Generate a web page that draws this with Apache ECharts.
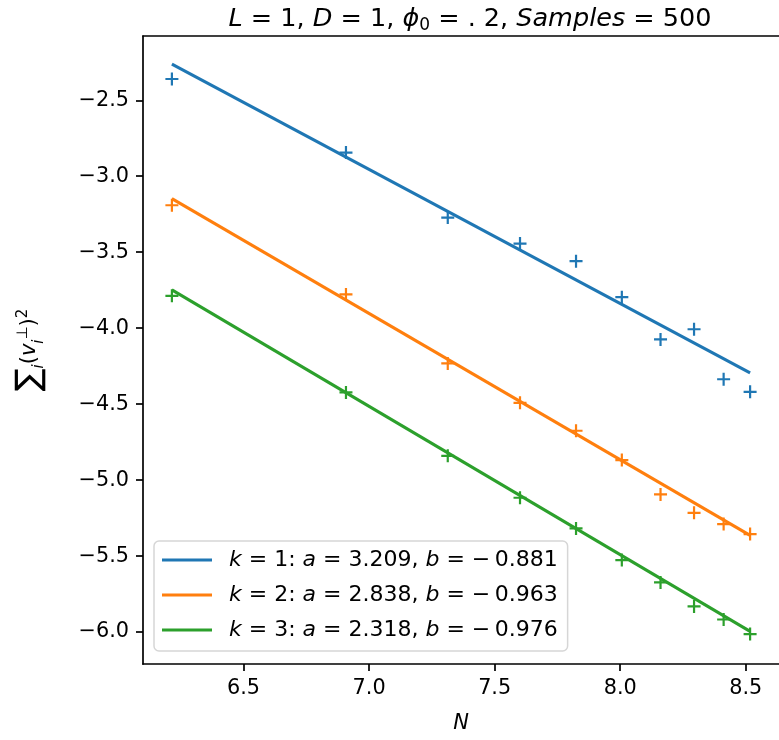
<!DOCTYPE html>
<html>
<head>
<meta charset="utf-8">
<script src="https://cdn.jsdelivr.net/npm/echarts@6/dist/echarts.min.js"></script>
<style>
html,body{margin:0;padding:0;background:#fff;}
#chart{width:779px;height:740px;}
</style>
</head>
<body>
<div id="chart"></div>
<script>
// ---- data ----
const xVals = [6.2146, 6.9078, 7.3132, 7.6009, 7.8240, 8.0064, 8.1605, 8.2940, 8.4118, 8.5172];
const k1Pts = [-2.360, -2.844, -3.272, -3.443, -3.559, -3.796, -4.074, -4.007, -4.336, -4.419];
const k2Pts = [-3.191, -3.778, -4.232, -4.491, -4.675, -4.868, -5.094, -5.215, -5.289, -5.355];
const k3Pts = [-3.787, -4.423, -4.840, -5.116, -5.318, -5.526, -5.673, -5.831, -5.917, -6.013];
const fitX = [6.2146, 8.5172];
const k1Fit = [-2.262, -4.294];
const k2Fit = [-3.147, -5.364];
const k3Fit = [-3.748, -5.995];
const kLabels = ['1', '2', '3'];
const aLabels = ['3.209', '2.838', '2.318'];
const bLabels = ['0.881', '0.963', '0.976'];
const colors = ['#1f77b4', '#ff7f0e', '#2ca02c'];

const FONT = 'DejaVu Sans';
const pts = [k1Pts, k2Pts, k3Pts];
const fits = [k1Fit, k2Fit, k3Fit];
const names = kLabels.map(k => 'k' + k);
const X_MIN = 6.0995, X_MAX = 8.6323;

const plusPath = 'path://M0,5 L10,5 M5,0 L5,10';
const series = [];
pts.forEach((p, i) => {
  series.push({
    type: 'scatter',
    data: xVals.map((x, j) => [x, p[j]]),
    symbol: plusPath,
    symbolSize: 13,
    itemStyle: {color: 'rgba(0,0,0,0)', borderColor: colors[i], borderWidth: 2.2, opacity: 1},
    z: 3,
    silent: true
  });
});
fits.forEach((f, i) => {
  series.push({
    type: 'line',
    name: names[i],
    data: fitX.map((x, j) => [x, f[j]]),
    symbol: 'none',
    lineStyle: {color: colors[i], width: 3.1},
    itemStyle: {color: colors[i]},
    z: 4,
    silent: true
  });
});

const minus = v => String(v).replace('-', '\u2212');
const axisLine = {show: true, onZero: false, lineStyle: {color: '#000', width: 1.7}};
const axisTick = {show: true, inside: false, length: 7, lineStyle: {color: '#000', width: 1.7}};

const chart = echarts.init(document.getElementById('chart'), null, {renderer: 'canvas'});
chart.setOption({
  animation: false,
  backgroundColor: '#fff',
  textStyle: {fontFamily: FONT},
  title: {
    text: '{i|L}{r| = 1, }{i|D}{r| = 1, }{i|ϕ}{s|0}{r| = . 2, }{i|Samples}{r| = 500}',
    left: 465, top: 0, textAlign: 'center',
    textStyle: {
      fontWeight: 'normal',
      rich: {
        i: {fontFamily: FONT, fontStyle: 'italic', fontWeight: 'normal', fontSize: 25.5, color: '#000'},
        r: {fontFamily: FONT, fontWeight: 'normal', fontSize: 25.5, color: '#000'},
        s: {fontFamily: FONT, fontWeight: 'normal', fontSize: 17, color: '#000', padding: [12, 0, 0, 0]}
      }
    }
  },
  grid: {left: 143, top: 36, width: 643.6, height: 628, containLabel: false},
  legend: {
    data: names,
    left: 154, top: 541,
    orient: 'vertical',
    icon: 'rect',
    itemWidth: 50, itemHeight: 3.2,
    itemGap: 11,
    padding: [7, 10, 9, 8],
    borderColor: '#d6d6d6', borderWidth: 1.5, borderRadius: 5,
    backgroundColor: 'rgba(255,255,255,0.8)',
    selectedMode: false,
    formatter: function (name) {
      const i = names.indexOf(name);
      return '{i|k}{r| = ' + kLabels[i] + ': }{i|a}{r| = ' + aLabels[i] + ', }{i|b}{r| = \u2212\u2009' + bLabels[i] + '}';
    },
    textStyle: {
      padding: [0, 0, 0, 12],
      lineHeight: 24,
      rich: {
        i: {fontFamily: FONT, fontStyle: 'italic', fontSize: 22, color: '#000', lineHeight: 24},
        r: {fontFamily: FONT, fontSize: 22, color: '#000', lineHeight: 24}
      }
    }
  },
  xAxis: [{
    type: 'value',
    min: X_MIN, max: X_MAX,
    splitNumber: 5,
    name: 'N',
    nameLocation: 'middle',
    nameGap: 49,
    nameTextStyle: {fontFamily: FONT, fontStyle: 'italic', fontSize: 21, color: '#000'},
    axisLine: axisLine, axisTick: axisTick,
    splitLine: {show: false},
    axisLabel: {show: true, showMinLabel: false, showMaxLabel: false, margin: 14,
      fontFamily: FONT, fontSize: 20.8, color: '#000', formatter: v => minus(v.toFixed(1))}
  }, {
    type: 'value',
    position: 'top',
    min: X_MIN, max: X_MAX,
    axisLine: axisLine,
    axisTick: {show: false},
    axisLabel: {show: false},
    splitLine: {show: false}
  }],
  yAxis: {
    type: 'value',
    min: -6.21, max: -2.077,
    splitNumber: 8,
    name: '{big|∑}{sub|i}{r|(}{i|v}{sub|i}{sup|⊥}{r|)}{sup|2}',
    nameLocation: 'middle',
    nameGap: 96,
    nameRotate: 90,
    nameTextStyle: {
      rich: {
        big: {fontFamily: FONT, fontSize: 34, color: '#000'},
        r: {fontFamily: FONT, fontSize: 21, color: '#000'},
        i: {fontFamily: FONT, fontStyle: 'italic', fontSize: 21, color: '#000'},
        sub: {fontFamily: FONT, fontStyle: 'italic', fontSize: 15, color: '#000', padding: [18, 0, 0, 0]},
        sup: {fontFamily: FONT, fontSize: 15, color: '#000', padding: [0, 0, 14, 0]}
      }
    },
    axisLine: axisLine, axisTick: axisTick,
    splitLine: {show: false},
    axisLabel: {show: true, showMinLabel: false, showMaxLabel: false, margin: 14,
      fontFamily: FONT, fontSize: 20.8, color: '#000', formatter: v => minus(v.toFixed(1))}
  },
  series: series
});
</script>
</body>
</html>
